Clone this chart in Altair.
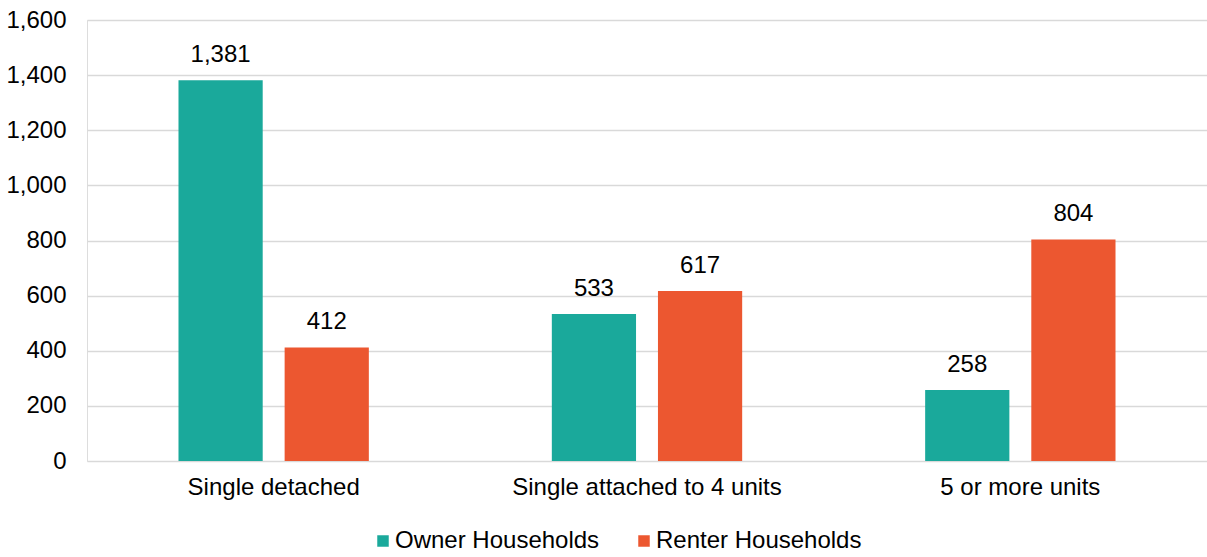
import altair as alt
import pandas as pd

# Households by structure type and tenure (thousands)
categories = ["Single detached", "Single attached to 4 units", "5 or more units"]
tenures = ["Owner Households", "Renter Households"]
owner_values = [1381, 533, 258]
renter_values = [412, 617, 804]
tenure_colors = ["#1AA99B", "#EC5730"]
y_ticks = [0, 200, 400, 600, 800, 1000, 1200, 1400, 1600]

rows = []
for cat, o, r in zip(categories, owner_values, renter_values):
    rows.append({"category": cat, "tenure": tenures[0], "value": o})
    rows.append({"category": cat, "tenure": tenures[1], "value": r})
df = pd.DataFrame(rows)

FONT = "Liberation Sans"
FS = 24

x_enc = alt.X(
    "category:N",
    sort=categories,
    scale=alt.Scale(paddingInner=0, paddingOuter=0),
    axis=alt.Axis(
        title=None, labelAngle=0, ticks=False, domain=False,
        labelFontSize=FS, labelColor="#000000", labelPadding=14,
        labelFont=FONT, labelLimit=0,
    ),
)
xoff_enc = alt.XOffset(
    "tenure:N",
    sort=tenures,
    scale=alt.Scale(paddingInner=0.2066, paddingOuter=0.862),
)
y_enc = alt.Y(
    "value:Q",
    scale=alt.Scale(domain=[0, 1600], nice=False),
    axis=alt.Axis(
        title=None, values=y_ticks, format=",.0f", ticks=False, domain=False,
        gridColor="#D9D9D9", gridWidth=1.6,
        labelFontSize=FS, labelColor="#000000", labelPadding=21,
        labelFont=FONT,
    ),
)

bars = alt.Chart(df).mark_bar().encode(
    x=x_enc,
    xOffset=xoff_enc,
    y=y_enc,
    color=alt.Color(
        "tenure:N",
        sort=tenures,
        scale=alt.Scale(domain=tenures, range=tenure_colors),
        legend=alt.Legend(
            title=None, orient="none", direction="horizontal",
            legendX=284, legendY=509,
            symbolType="square", symbolSize=132, symbolStrokeWidth=0,
            labelFontSize=FS, labelFont=FONT, labelColor="#000000",
            labelOffset=0, columnPadding=32, padding=0, labelLimit=0,
        ),
    ),
)

labels = alt.Chart(df).mark_text(
    baseline="alphabetic", dy=-18, fontSize=FS, font=FONT, color="#000000"
).encode(
    x=alt.X("category:N", sort=categories),
    xOffset=alt.XOffset("tenure:N", sort=tenures),
    y="value:Q",
    text=alt.Text("value:Q", format=",.0f"),
)

chart = (
    alt.layer(bars, labels)
    .properties(
        width=1120,
        height=441,
        autosize=alt.AutoSizeParams(type="none"),
        padding={"left": 87, "top": 20, "right": 0, "bottom": 96},
        background="#FFFFFF",
    )
    .configure_view(stroke=None)
    .configure(font=FONT)
)

chart.save("out.html", embed_options={"renderer": "svg", "actions": False})
